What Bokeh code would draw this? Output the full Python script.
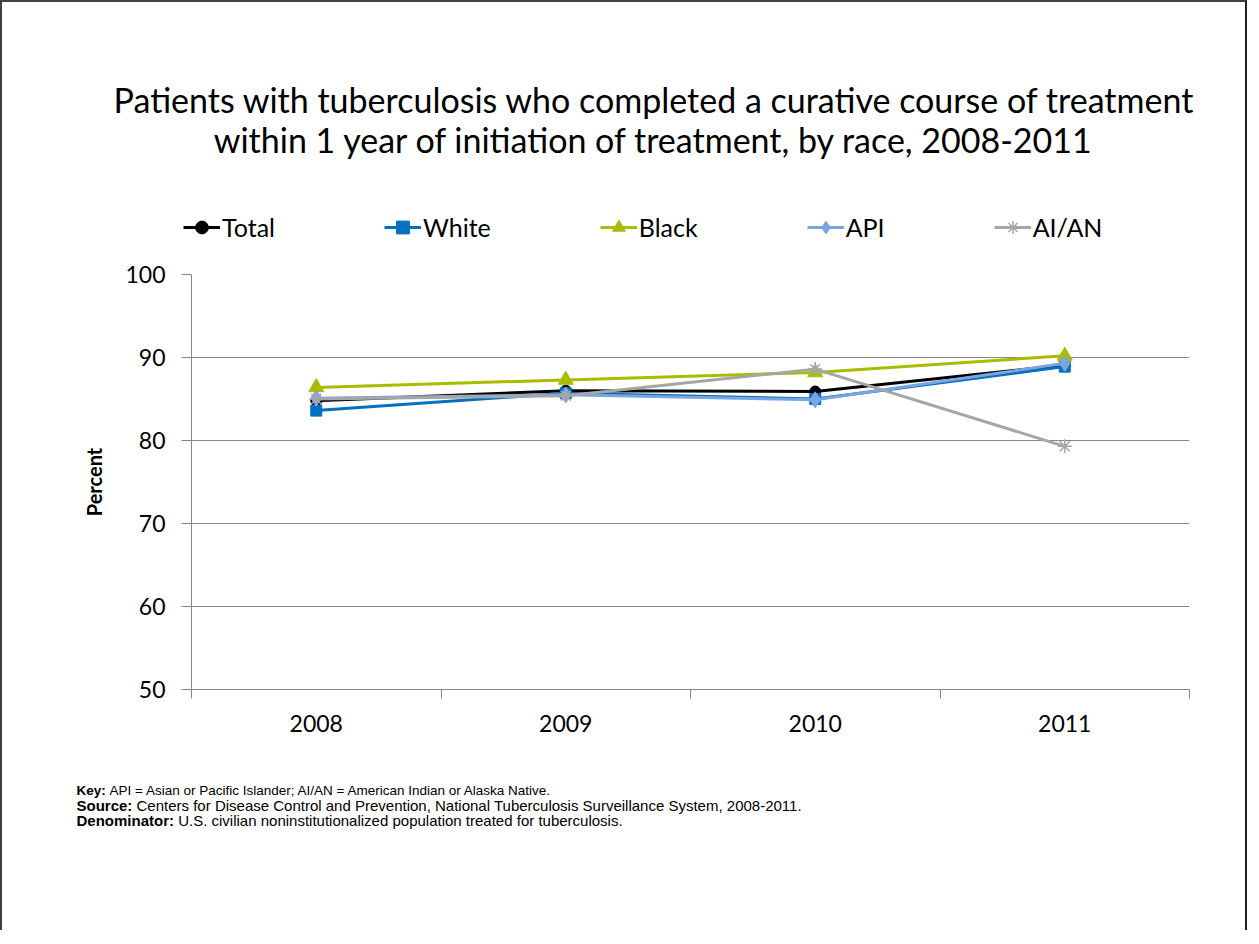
from bokeh.plotting import figure
from bokeh.models import Legend, LegendItem, Label, FixedTicker, Range1d
from bokeh.layouts import column
from bokeh.embed import file_html
from bokeh.resources import INLINE

# ---- data ----
years = [2008, 2009, 2010, 2011]
total = [84.8, 86.0, 85.9, 89.1]
white = [83.6, 85.7, 85.0, 88.9]
black = [86.4, 87.3, 88.2, 90.2]
api = [85.1, 85.5, 84.9, 89.3]
aian = [85.0, 85.4, 88.6, 79.3]
y_ticks = [50, 60, 70, 80, 90, 100]

title_lines = ["Patients with tuberculosis who completed a curative course of treatment",
               "within 1 year of initiation of treatment, by race, 2008-2011"]
notes = [("Key:", "API = Asian or Pacific Islander; AI/AN = American Indian or Alaska Native."),
         ("Source:", "Centers for Disease Control and Prevention, National Tuberculosis Surveillance System, 2008-2011."),
         ("Denominator:", "U.S. civilian noninstitutionalized population treated for tuberculosis.")]

series = [
    ("Total", total, "#000000", "circle", 11),
    ("White", white, "#0070C0", "square", 11),
    ("Black", black, "#A9BC00", "triangle", 15),
    ("API", api, "#79A5E0", "diamond", 16),
    ("AI/AN", aian, "#A6A6A6", "asterisk", 14),
]

# ---- layout (canvas pixels) ----
W = 1243
H_HEAD, H_MAIN, H_FOOT = 250, 520, 158
FONT = "Lato"
GRID = "#868686"


def text_fig(h):
    f = figure(width=W, height=h, output_backend="svg", toolbar_location=None,
               x_range=Range1d(0, W), y_range=Range1d(h, 0),
               x_axis_type=None, y_axis_type=None, frame_align=False,
               min_border_left=0, min_border_right=0, min_border_top=0, min_border_bottom=0)
    f.outline_line_color = None
    f.xgrid.grid_line_color = None
    f.ygrid.grid_line_color = None
    f.border_fill_color = "white"
    f.background_fill_color = "white"
    return f


def draw_series(fig, xs, vals, col, mk, sz):
    lr = fig.line(xs, vals, line_color=col, line_width=3)
    if mk == "asterisk":
        sr = fig.scatter(xs, vals, marker=mk, size=sz, line_color=col, line_width=1.5)
    else:
        sr = fig.scatter(xs, vals, marker=mk, size=sz, fill_color=col, line_color=col)
    return lr, sr


# ---- header: title + legend ----
head = text_fig(H_HEAD)
for i, t in enumerate(title_lines):
    head.add_layout(Label(x=652, y=97 + 40 * i, text=t, text_align="center",
                          text_baseline="middle", text_font=FONT,
                          text_font_size="34px", text_color="black"))
# legend swatches: same series styles; their data lie outside this panel's ranges
items = []
for name, vals, col, mk, sz in series:
    lr, sr = draw_series(head, years, vals, col, mk, sz)
    items.append(LegendItem(label=name, renderers=[lr, sr]))
legend = Legend(items=items, orientation="horizontal", location=(181, 9),
                spacing=109, glyph_width=37, glyph_height=32, label_standoff=2,
                padding=0, margin=0, border_line_color=None, background_fill_alpha=0,
                label_text_font=FONT, label_text_font_size="25px", label_text_color="black")
head.add_layout(legend, "center")

# ---- main chart ----
FL, FR, FT, FB = 189, 1187, 22, 437
p = figure(width=W, height=H_MAIN, output_backend="svg", toolbar_location=None,
           x_range=Range1d(years[0] - 0.5, years[-1] + 0.5), y_range=Range1d(50, 100),
           frame_align=False,
           min_border_left=FL, min_border_right=W - FR,
           min_border_top=FT, min_border_bottom=H_MAIN - FB)
p.outline_line_color = None
p.background_fill_color = "white"
p.border_fill_color = "white"

xa = p.xaxis[0]
xa.ticker = FixedTicker(ticks=years, minor_ticks=[y - 0.5 for y in years] + [years[-1] + 0.5])
xa.major_tick_line_color = None
xa.major_tick_out = 0
xa.major_tick_in = 0
xa.minor_tick_line_color = GRID
xa.minor_tick_out = 9
xa.minor_tick_in = 0
xa.axis_line_color = GRID
xa.major_label_text_font = FONT
xa.major_label_text_font_size = "23px"
xa.major_label_text_color = "black"
xa.major_label_standoff = 16

ya = p.yaxis[0]
ya.ticker = FixedTicker(ticks=y_ticks, minor_ticks=[])
ya.major_tick_line_color = GRID
ya.major_tick_out = 10
ya.major_tick_in = 0
ya.minor_tick_line_color = None
ya.axis_line_color = GRID
ya.major_label_text_font = FONT
ya.major_label_text_font_size = "23px"
ya.major_label_text_color = "black"
ya.major_label_standoff = 16
ya.axis_label = "Percent"
ya.axis_label_text_font = FONT
ya.axis_label_text_font_size = "20px"
ya.axis_label_text_font_style = "bold"
ya.axis_label_text_color = "black"
ya.axis_label_standoff = 16

p.xgrid.grid_line_color = None
p.ygrid.grid_line_color = GRID
p.ygrid.grid_line_width = 1

for name, vals, col, mk, sz in series:
    draw_series(p, years, vals, col, mk, sz)

# ---- footer: notes ----
foot = text_fig(H_FOOT)
NX = 74
bold_units = [2167, 3723, 6500]
sizes = [13.5, 15, 15]
for i, (b, r) in enumerate(notes):
    yy = 18 + 15 * i
    s = sizes[i]
    foot.add_layout(Label(x=NX, y=yy, text=b, text_align="left", text_baseline="middle",
                          text_font="Liberation Sans", text_font_size=f"{s}px",
                          text_font_style="bold", text_color="black"))
    foot.add_layout(Label(x=NX + (bold_units[i] + 278) * s / 1000, y=yy, text=r,
                          text_align="left", text_baseline="middle",
                          text_font="Liberation Sans", text_font_size=f"{s}px",
                          text_color="black"))

page = column(head, p, foot, spacing=0)
page.styles = {"border-left": "2px solid #404040", "border-top": "2px solid #404040",
               "border-right": "2px solid #202020"}

open("out.html", "w").write(file_html(page, INLINE))
